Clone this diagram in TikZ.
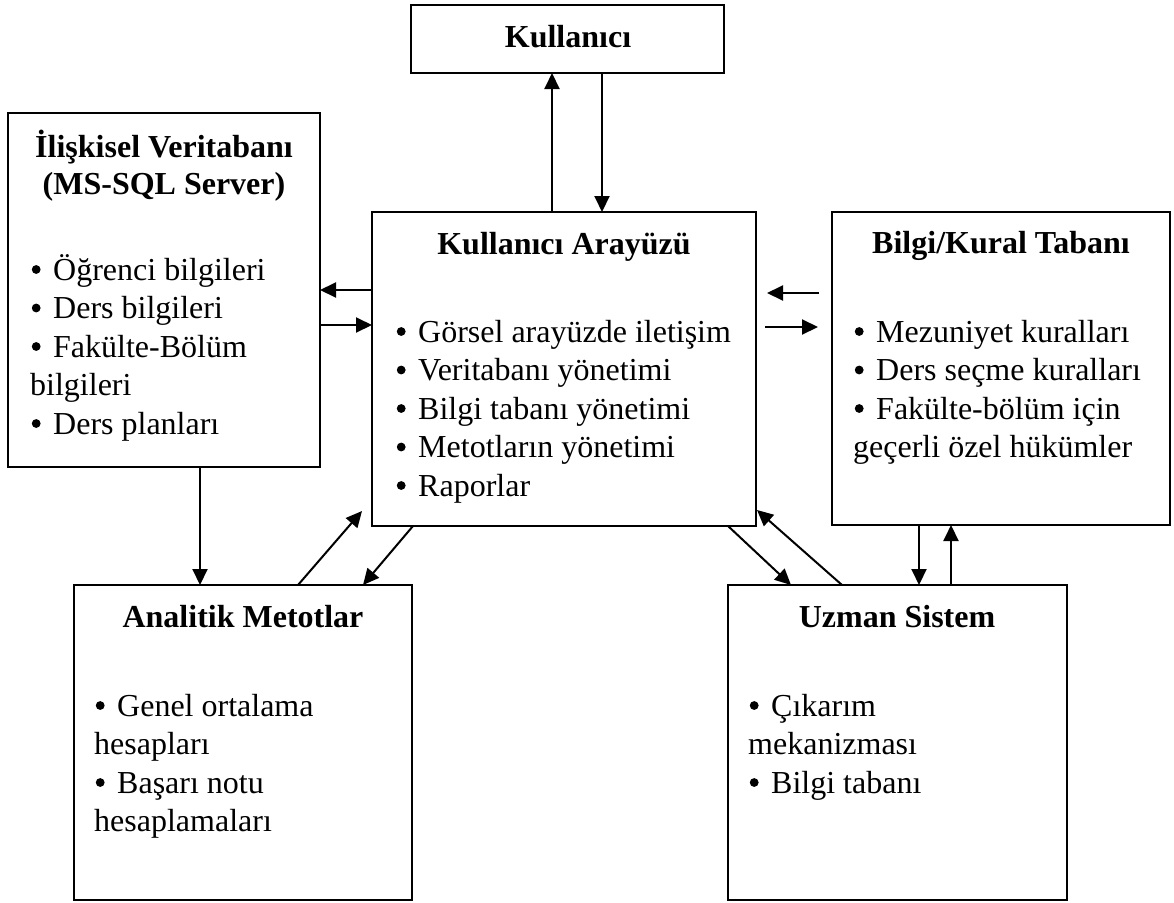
\documentclass[tikz,border=0pt]{standalone}
\usepackage{fontspec}
\setmainfont{Liberation Serif}
\usetikzlibrary{arrows.meta,calc}
\newcommand{\bl}{\tikz[baseline=0pt,x=1pt,y=1pt]{\useasboundingbox (0,0) rectangle (23,1); \fill[black] (6,10.5) circle (4.4pt);}}
\begin{document}
\begin{tikzpicture}[x=1pt,y=-1pt,
  box/.style={draw, line width=2pt, rectangle, inner sep=0pt, outer sep=0pt, anchor=north west},
  txt/.style={font=\fontsize{32}{38}\selectfont, inner sep=0pt},
  ttl/.style={inner sep=0pt, font=\fontsize{32}{38}\selectfont\bfseries, anchor=base},
  itm/.style={txt, anchor=base west},
  arr/.style={line width=2pt, -{Triangle[length=16pt,width=15pt]}}]
\fill[white] (0,0) rectangle (1174,902);
\useasboundingbox (0,0) rectangle (1174,902);

% boxes
\node[box, minimum width=313pt, minimum height=68pt]  (K)  at (411,5)   {};
\node[box, minimum width=312pt, minimum height=354pt] (DB) at (8,113)   {};
\node[box, minimum width=384pt, minimum height=314pt] (KA) at (372,212) {};
\node[box, minimum width=338pt, minimum height=313pt] (BK) at (832,212) {};
\node[box, minimum width=338pt, minimum height=315pt] (AM) at (74,585)  {};
\node[box, minimum width=339pt, minimum height=315pt] (US) at (728,585) {};

% titles
\node[ttl] (Kt)   at (568,47)  {Kullanıcı};
\node[ttl] (DBt1) at (164,157) {İlişkisel Veritabanı};
\node[ttl] (DBt2) at (164,194) {(MS-SQL Server)};
\node[ttl] (KAt)  at (564,254) {Kullanıcı Arayüzü};
\node[ttl] (BKt)  at (1001,253) {Bilgi/Kural Tabanı};
\node[ttl] (AMt)  at (243,627) {Analitik Metotlar};
\node[ttl] (USt)  at (897,627) {Uzman Sistem};

% items: database
\node[itm] (db1) at (30,280)   {\bl Öğrenci bilgileri};
\node[itm] (db2) at (30,318.5) {\bl Ders bilgileri};
\node[itm] (db3) at (30,357)   {\bl Fakülte-Bölüm};
\node[itm] (db4) at (30,395.5) {bilgileri};
\node[itm] (db5) at (30,434)   {\bl Ders planları};

% items: user interface
\node[itm] (ka1) at (395,342)   {\bl Görsel arayüzde iletişim};
\node[itm] (ka2) at (395,380.5) {\bl Veritabanı yönetimi};
\node[itm] (ka3) at (395,419)   {\bl Bilgi tabanı yönetimi};
\node[itm] (ka4) at (395,457.5) {\bl Metotların yönetimi};
\node[itm] (ka5) at (395,496)   {\bl Raporlar};

% items: knowledge base
\node[itm] (bk1) at (853,342)   {\bl Mezuniyet kuralları};
\node[itm] (bk2) at (853,380.5) {\bl Ders seçme kuralları};
\node[itm] (bk3) at (853,419)   {\bl Fakülte-bölüm için};
\node[itm] (bk4) at (853,457.5) {geçerli özel hükümler};

% items: analytic methods
\node[itm] (am1) at (94,716)   {\bl Genel ortalama};
\node[itm] (am2) at (94,754.5) {hesapları};
\node[itm] (am3) at (94,793)   {\bl Başarı notu};
\node[itm] (am4) at (94,831.5) {hesaplamaları};

% items: expert system
\node[itm] (us1) at (748,716)   {\bl Çıkarım};
\node[itm] (us2) at (748,754.5) {mekanizması};
\node[itm] (us3) at (748,793)   {\bl Bilgi tabanı};

% connectors
\draw[arr] ($(KA.north west)+(180,0)$) -- ($(K.south west)+(141,0)$);
\draw[arr] ($(K.south west)+(191,0)$) -- ($(KA.north west)+(230,0)$);
\draw[arr] ($(KA.north west)+(0,78)$) -- ($(DB.north east)+(0,177)$);
\draw[arr] ($(DB.north east)+(0,212)$) -- ($(KA.north west)+(0,113)$);
\draw[arr] ($(BK.north west)+(-13,81)$) -- ($(KA.north east)+(11,81)$);
\draw[arr] ($(KA.north east)+(9,115)$) -- ($(BK.north west)+(-14,115)$);
\draw[arr] ($(DB.south west)+(192,0)$) -- ($(AM.north west)+(126,0)$);
\draw[arr] ($(AM.north west)+(224,0)$) -- ($(KA.south west)+(-10,-15)$);
\draw[arr] ($(KA.south west)+(41,0)$) -- ($(AM.north west)+(289,0)$);
\draw[arr] ($(KA.south east)+(-28,0)$) -- ($(US.north west)+(63,0)$);
\draw[arr] ($(US.north west)+(114,0)$) -- ($(KA.south east)+(1,-16)$);
\draw[arr] ($(BK.south west)+(87,0)$) -- ($(US.north west)+(191,0)$);
\draw[arr] ($(US.north west)+(223,0)$) -- ($(BK.south west)+(119,0)$);
\end{tikzpicture}
\end{document}
